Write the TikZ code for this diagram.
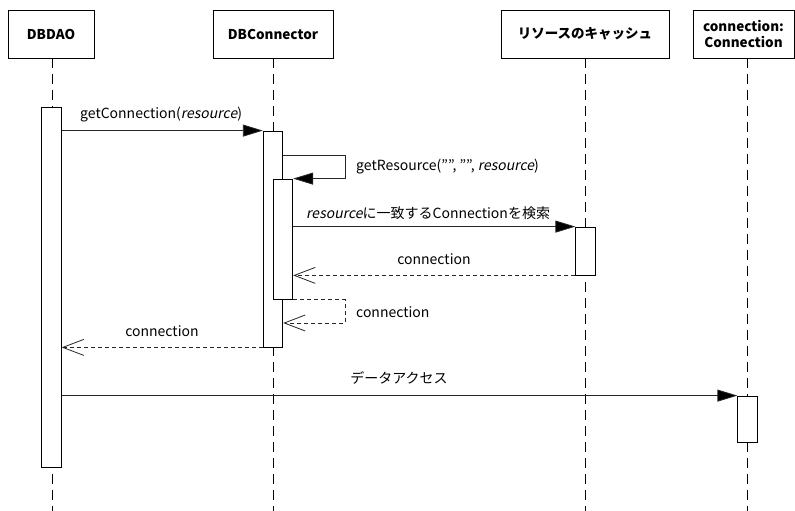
\documentclass[tikz,border=0pt]{standalone}
\usepackage{fontspec}
\setmainfont{Noto Sans CJK JP}[ItalicFont={Noto Sans CJK JP},ItalicFeatures={FakeSlant=0.2}]
\usetikzlibrary{arrows.meta,positioning}

\begin{document}
\begin{tikzpicture}[x=1pt,y=-1pt,font=\fontsize{14}{16}\selectfont,
  obj/.style={draw,line width=0.8pt,minimum height=48pt,inner sep=2pt,align=center,font=\fontsize{13.5}{16}\selectfont\bfseries},
  act/.style={draw,fill=white,line width=0.8pt,minimum width=19.5pt,inner sep=0pt},
  life/.style={line width=0.8pt,dash pattern=on 10pt off 6pt},
  call/.style={line width=0.8pt,draw=black!85,-{Triangle[length=20pt,width=12pt,fill=black]}},
  ret/.style={line width=0.8pt,draw=black!85,dash pattern=on 4pt off 3pt,-{Straight Barb[length=21pt,width=16pt]}},
  lbl/.style={inner sep=0pt}]
  \useasboundingbox (0,0) rectangle (795,511);
  \coordinate (bottom) at (0,512);
  % objects
  \node[obj,minimum width=86pt] (dao) at (51,34) {DBDAO};
  \node[obj,minimum width=120pt] (con) at (273,34) {DBConnector};
  \node[obj,minimum width=168pt] (cache) at (585,34) {リソースのキャッシュ};
  \node[obj,minimum width=101pt] (conn) at (743.5,34) {connection:\\Connection};
  % lifelines
  \foreach \o/\dx in {dao/1,con/0,cache/0.5,conn/3.5}{
    \draw[life] ([xshift=\dx pt]\o.south) -- ([xshift=\dx pt]\o.south |- bottom);
  }
  % activations
  \node[act,minimum height=360pt] (daoA) at (51.5,287) {};
  \node[act,minimum height=216pt] (conA1) at (273,239) {};
  \node[act,minimum height=120pt] (conA2) at (283,239) {};
  \node[act,minimum height=48pt] (cacheA) at (585.5,251) {};
  \node[act,minimum height=46pt] (connA) at (747.5,419) {};
  % messages
  \draw[call] (daoA.east |- conA1.north) -- (conA1.north west);
  \node[lbl,anchor=west] (m1) at (80,115) {getConnection(\textit{resource})};
  \coordinate (callturn) at (345,155);
  \draw[call] (conA1.east |- callturn) -- (callturn) |- (conA2.north east);
  \node[lbl,anchor=west] (m2) at (356,167) {getResource("", "", \textit{resource})};
  \draw[call] (conA2.east |- cacheA.north) -- (cacheA.north west);
  \node[lbl,anchor=west] (m3) at (306,213) {\textit{resource}に一致するConnectionを検索};
  \draw[ret] (cacheA.south west) -- (conA2.east |- cacheA.south);
  \node[lbl] (r4) at (434,259) {connection};
  \coordinate (retturn) at (345,323);
  \draw[ret] (conA2.south east) -| (retturn) -- (conA1.east |- retturn);
  \node[lbl,anchor=west] (r5) at (356,312) {connection};
  \draw[ret] (conA1.south west) -- (daoA.east |- conA1.south);
  \node[lbl] (r6) at (162,331) {connection};
  \draw[call] (daoA.east |- connA.north) -- (connA.north west);
  \node[lbl] (m7) at (399,378) {データアクセス};
\end{tikzpicture}
\end{document}
